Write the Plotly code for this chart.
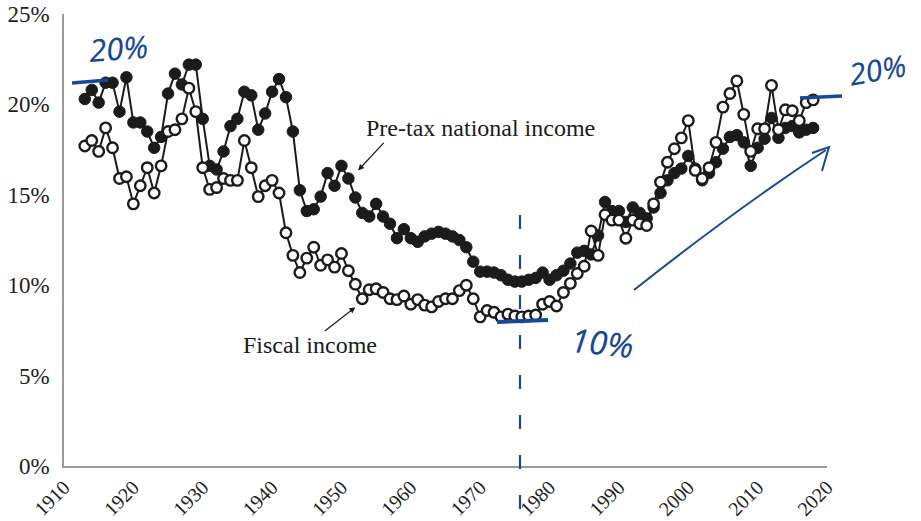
import plotly.graph_objects as go

years = list(range(1913, 2019))

pretax_national = [
    20.3, 20.8, 20.1, 21.2, 21.2, 19.6, 21.5, 19.0, 19.0, 18.5,
    17.6, 18.2, 20.6, 21.7, 21.1, 22.2, 22.2, 19.2, 16.6, 16.4,
    17.4, 18.8, 19.2, 20.7, 20.5, 18.6, 19.5, 20.7, 21.4, 20.4,
    18.5, 15.25, 14.1, 14.2, 14.9, 16.2, 15.5, 16.6, 15.9, 14.85,
    14.0, 13.8, 14.5, 13.8, 13.4, 12.6, 13.1, 12.6, 12.4, 12.7,
    12.85, 12.95, 12.85, 12.7, 12.5, 12.1, 11.3, 10.75, 10.75, 10.7,
    10.55, 10.3, 10.2, 10.2, 10.3, 10.4, 10.7, 10.3, 10.55, 10.8,
    11.2, 11.8, 11.9, 11.7, 12.75, 14.6, 14.1, 14.1, 13.5, 14.3,
    14.0, 13.7, 14.3, 15.1, 15.8, 16.2, 16.45, 17.15, 16.45, 15.8,
    16.2, 16.8, 17.55, 18.2, 18.3, 17.9, 16.6, 17.6, 18.1, 19.25,
    18.15, 18.7, 18.8, 18.45, 18.6, 18.7,
]

fiscal_income = [
    17.7, 18.0, 17.4, 18.7, 17.6, 15.9, 16.0, 14.5, 15.5, 16.5,
    15.1, 16.6, 18.5, 18.6, 19.2, 20.9, 19.6, 16.5, 15.3, 15.4,
    15.9, 15.8, 15.8, 18.0, 16.5, 14.9, 15.5, 15.8, 15.1, 12.9,
    11.65, 10.7, 11.5, 12.1, 11.1, 11.4, 11.0, 11.75, 10.8, 10.05,
    9.25, 9.75, 9.8, 9.6, 9.25, 9.2, 9.4, 8.95, 9.2, 8.9,
    8.8, 9.1, 9.25, 9.25, 9.7, 10.0, 9.25, 8.25, 8.6, 8.5,
    8.25, 8.4, 8.3, 8.25, 8.3, 8.35, 8.95, 9.1, 8.85, 9.6,
    10.1, 10.65, 11.05, 13.0, 11.65, 13.9, 13.6, 13.6, 12.6, 13.6,
    13.4, 13.3, 14.5, 15.7, 16.8, 17.55, 18.15, 19.1, 16.35, 15.9,
    16.5, 17.9, 19.85, 20.6, 21.3, 19.45, 17.4, 18.65, 18.65, 21.05,
    18.6, 19.7, 19.65, 19.1, 20.1, 20.25,
]

x_ticks = [1910, 1920, 1930, 1940, 1950, 1960, 1970, 1980, 1990, 2000, 2010, 2020]
y_ticks = [0, 5, 10, 15, 20, 25]
y_tick_labels = ["0%", "5%", "10%", "15%", "20%", "25%"]

SERIF = "Liberation Serif, Times New Roman, serif"
HAND = "Noto Sans, DejaVu Sans, sans-serif"
INK = "#1b1b1b"
BLUE = "#17489a"

FW, FH = 921, 521
# plot-area pixel geometry in page coordinates
L, R, T, B = 64, 827, 14, 466
def px(x):
    return (x - L) / (R - L)
def py(y):
    return (B - y) / (B - T)

fig = go.Figure()
fig.add_trace(go.Scatter(
    x=years, y=pretax_national, mode="lines+markers",
    line=dict(color=INK, width=2),
    marker=dict(size=11.5, color=INK, line=dict(color=INK, width=1)),
    showlegend=False, cliponaxis=False, hoverinfo="skip",
))
fig.add_trace(go.Scatter(
    x=years, y=fiscal_income, mode="lines+markers",
    line=dict(color=INK, width=2),
    marker=dict(size=10.5, color="white", line=dict(color=INK, width=2.4)),
    showlegend=False, cliponaxis=False, hoverinfo="skip",
))

def label(x, y, text, font, angle=0):
    return dict(x=px(x), y=py(y), xref="paper", yref="paper", text=text,
                textangle=angle, showarrow=False, xanchor="center", yanchor="middle",
                font=font)

annotations = [
    dict(x=1952.4, y=16.35, xref="x", yref="y", text="", showarrow=True,
         ax=27, ay=-29, arrowhead=2, arrowsize=1, arrowwidth=1.2, arrowcolor=INK),
    dict(x=1952.0, y=8.78, xref="x", yref="y", text="", showarrow=True,
         ax=-32, ay=25, arrowhead=2, arrowsize=1, arrowwidth=1.2, arrowcolor=INK),
    label(481, 128, "Pre-tax national income", dict(family=SERIF, size=24, color=INK)),
    label(310, 345, "Fiscal income", dict(family=SERIF, size=24, color=INK)),
    # handwritten notes
    label(118, 48, "20%", dict(family=HAND, size=31, color=BLUE, style="italic"), -4),
    label(877, 70, "20%", dict(family=HAND, size=30, color=BLUE, style="italic"), -10),
    label(602, 342, "10%", dict(family=HAND, size=33, color=BLUE, style="italic"), 6),
]

def seg(x0, y0, x1, y1, width=3, dash="solid"):
    return dict(type="line", xref="paper", yref="paper",
                x0=px(x0), y0=py(y0), x1=px(x1), y1=py(y1),
                line=dict(color=BLUE, width=width, dash=dash), layer="above")

def path(points, curve=None, width=2):
    d = "M {:.4f} {:.4f}".format(px(points[0][0]), py(points[0][1]))
    if curve:
        cx, cy = curve
        d += " Q {:.4f} {:.4f} {:.4f} {:.4f}".format(px(cx), py(cy), px(points[1][0]), py(points[1][1]))
    else:
        for (a, b) in points[1:]:
            d += " L {:.4f} {:.4f}".format(px(a), py(b))
    return dict(type="path", xref="paper", yref="paper", path=d,
                line=dict(color=BLUE, width=width), layer="above")

shapes = [
    seg(72, 83, 108, 80, width=3.5),
    seg(800, 98, 842, 96, width=3.5),
    seg(497, 322, 548, 320, width=4),
    seg(520, 215, 520, 510, width=2.2, dash="14px,26px"),
    path([(634, 290), (826, 150)], curve=(735, 210), width=2),
    path([(812, 153), (829, 147), (822, 171)], width=2),
]

fig.update_layout(
    width=FW, height=FH,
    margin=dict(l=L, r=FW - R, t=T, b=FH - B, autoexpand=False),
    paper_bgcolor="white", plot_bgcolor="white",
    annotations=annotations, shapes=shapes,
    xaxis=dict(
        range=[1910, 2020], tickmode="array", tickvals=x_ticks,
        tickangle=-45, showgrid=False, zeroline=False, automargin=False,
        showline=True, linecolor="#9a9a9a", linewidth=1.5,
        ticks="", ticklabeloverflow="allow",
        tickfont=dict(family=SERIF, size=20, color="#222"),
    ),
    yaxis=dict(
        range=[0, 25], tickmode="array", tickvals=y_ticks, ticktext=y_tick_labels,
        showgrid=False, zeroline=False, automargin=False,
        showline=True, linecolor="#9a9a9a", linewidth=1.5,
        ticks="", ticklabelstandoff=8, ticklabeloverflow="allow",
        tickfont=dict(family=SERIF, size=23, color="#222"),
    ),
)

fig.write_html("out.html", config={"displayModeBar": False},
               post_script="document.body.style.margin='0px';")
